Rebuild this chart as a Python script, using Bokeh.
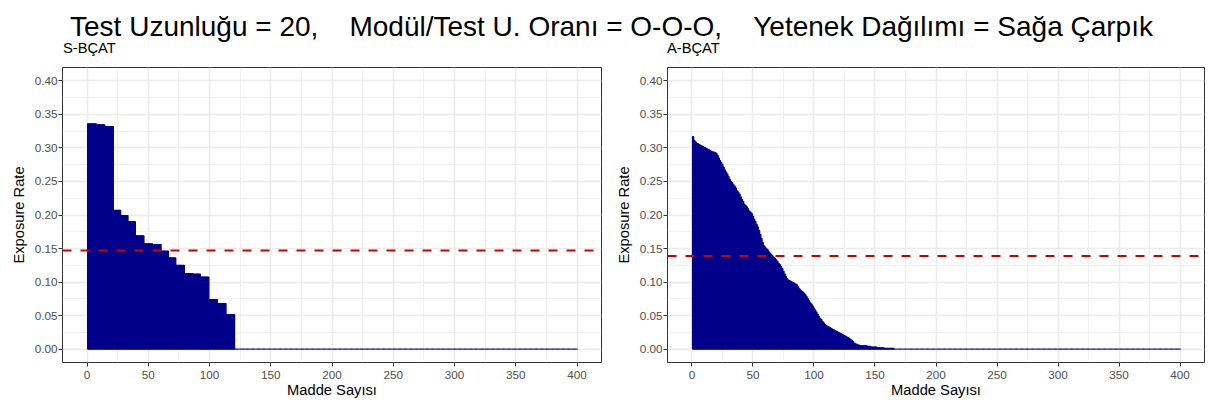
from bokeh.plotting import figure
from bokeh.layouts import column, row
from bokeh.models import Span, FixedTicker, PrintfTickFormatter, Range1d, ColumnDataSource
from bokeh.core.properties import value
from bokeh.embed import file_html
from bokeh.resources import INLINE

# ---------------- data ----------------
main_title = "Test Uzunluğu = 20,\u00a0\u00a0\u00a0\u00a0Modül/Test U. Oranı = O-O-O,\u00a0\u00a0\u00a0\u00a0Yetenek Dağılımı = Sağa Çarpık"
panel_titles = ["S-BÇAT", "A-BÇAT"]
x_label = "Madde Sayısı"
y_label = "Exposure Rate"

item_numbers = list(range(1, 401))

# S-BCAT: exposure rates of items 1..120 (sorted), remaining 280 items never used
s_bcat_rates = [
    0.336, 0.336, 0.336, 0.336, 0.336, 0.336, 0.336, 0.3345, 0.3345, 0.3345,
    0.3345, 0.3345, 0.3345, 0.3345, 0.332, 0.332, 0.332, 0.332, 0.332, 0.332,
    0.332, 0.207, 0.207, 0.207, 0.207, 0.207, 0.207, 0.199, 0.199, 0.199,
    0.199, 0.199, 0.199, 0.190, 0.190, 0.190, 0.190, 0.190, 0.190, 0.169,
    0.169, 0.169, 0.169, 0.169, 0.169, 0.169, 0.157, 0.157, 0.157, 0.157,
    0.157, 0.157, 0.157, 0.156, 0.156, 0.156, 0.156, 0.156, 0.156, 0.156,
    0.146, 0.146, 0.146, 0.146, 0.146, 0.146, 0.136, 0.136, 0.136, 0.136,
    0.136, 0.136, 0.125, 0.125, 0.125, 0.125, 0.125, 0.125, 0.125, 0.1125,
    0.1125, 0.1125, 0.1125, 0.1125, 0.1125, 0.1125, 0.112, 0.112, 0.112, 0.112,
    0.112, 0.112, 0.1075, 0.1075, 0.1075, 0.1075, 0.1075, 0.1075, 0.1075, 0.074,
    0.074, 0.074, 0.074, 0.074, 0.074, 0.074, 0.068, 0.068, 0.068, 0.068,
    0.068, 0.068, 0.068, 0.0516, 0.0516, 0.0516, 0.0516, 0.0516, 0.0516, 0.0516,
] + [0.0] * 280

# A-BCAT: exposure rates of items 1..165 (sorted), remaining 235 items never used
a_bcat_rates = [
    0.317, 0.311, 0.309, 0.307, 0.306, 0.305, 0.304, 0.303, 0.302, 0.301,
    0.300, 0.299, 0.298, 0.297, 0.296, 0.295, 0.294, 0.294, 0.293, 0.292,
    0.289, 0.285, 0.281, 0.278, 0.275, 0.271, 0.267, 0.264, 0.261, 0.257,
    0.253, 0.250, 0.248, 0.245, 0.243, 0.240, 0.236, 0.234, 0.231, 0.227,
    0.223, 0.220, 0.216, 0.214, 0.212, 0.209, 0.206, 0.204, 0.202, 0.198,
    0.194, 0.190, 0.186, 0.182, 0.177, 0.171, 0.165, 0.159, 0.154, 0.152,
    0.150, 0.148, 0.145, 0.143, 0.141, 0.139, 0.137, 0.135, 0.133, 0.131,
    0.128, 0.126, 0.123, 0.120, 0.116, 0.112, 0.108, 0.105, 0.103, 0.102,
    0.101, 0.100, 0.099, 0.098, 0.097, 0.096, 0.093, 0.090, 0.088, 0.086,
    0.085, 0.083, 0.081, 0.078, 0.075, 0.072, 0.069, 0.067, 0.064, 0.061,
    0.058, 0.055, 0.052, 0.049, 0.046, 0.044, 0.041, 0.039, 0.037, 0.035,
    0.034, 0.033, 0.032, 0.031, 0.030, 0.029, 0.028, 0.027, 0.026, 0.025,
    0.024, 0.023, 0.022, 0.021, 0.020, 0.019, 0.018, 0.017, 0.016, 0.014,
    0.013, 0.011, 0.009, 0.008, 0.007, 0.006, 0.006, 0.005, 0.005, 0.005,
    0.005, 0.005, 0.005, 0.004, 0.004, 0.004, 0.003, 0.003, 0.003, 0.003,
    0.003, 0.002, 0.002, 0.002, 0.002, 0.002, 0.002, 0.001, 0.001, 0.001,
    0.001, 0.001, 0.001, 0.001, 0.001,
] + [0.0] * 235

reference_lines = [0.147, 0.139]

x_ticks = [0, 50, 100, 150, 200, 250, 300, 350, 400]
y_ticks = [0.0, 0.05, 0.10, 0.15, 0.20, 0.25, 0.30, 0.35, 0.40]

# ---------------- style / layout ----------------
FONT = "Liberation Sans"
BAR = "#00008B"
RED = "#CD0000"
GRID = "#EBEBEB"
BORDER = "#333333"

HEAD_H = 59
PANEL_H = 344
W1, W2 = 612, 596

x_minor = [(a + b) / 2 for a, b in zip(x_ticks[:-1], x_ticks[1:])] + [x_ticks[-1] + (x_ticks[1] - x_ticks[0]) / 2]
y_minor = [(a + b) / 2 for a, b in zip(y_ticks[:-1], y_ticks[1:])]


def make_panel(rates, ref, width, left, right):
    p = figure(width=width, height=PANEL_H, output_backend="svg", toolbar_location=None,
               x_range=Range1d(-20, 420), y_range=Range1d(-0.02, 0.42),
               min_border_left=left, min_border_right=right, min_border_top=8, min_border_bottom=41)

    src = ColumnDataSource(dict(x=item_numbers, top=rates))
    p.vbar(x="x", top="top", bottom=0, width=1, source=src,
           fill_color=BAR, line_color=BAR, line_width=1.2)
    p.add_layout(Span(location=ref, dimension="width", line_color=RED,
                      line_width=2, line_dash="9 9"))

    p.outline_line_color = BORDER
    p.outline_line_width = 1
    p.background_fill_color = "white"
    p.border_fill_color = "white"

    for ax, ticks, minor in ((p.xaxis[0], x_ticks, x_minor), (p.yaxis[0], y_ticks, y_minor)):
        ax.ticker = FixedTicker(ticks=ticks, minor_ticks=minor)
        ax.axis_line_color = None
        ax.major_tick_line_color = BORDER
        ax.major_tick_out = 4
        ax.major_tick_in = 0
        ax.minor_tick_line_color = None
        ax.major_label_text_font = FONT
        ax.major_label_text_font_size = "11.7px"
        ax.major_label_text_color = "#4D4D4D"
        ax.axis_label_text_font = FONT
        ax.axis_label_text_font_size = "14.7px"
        ax.axis_label_text_font_style = "normal"
        ax.axis_label_text_color = "black"
    p.xaxis.major_label_standoff = 4
    p.xaxis.axis_label_standoff = 0
    p.yaxis.major_label_standoff = 1
    p.yaxis.axis_label_standoff = 5
    p.xaxis.axis_label = x_label
    p.yaxis.axis_label = y_label
    p.yaxis.formatter = PrintfTickFormatter(format="%.2f")

    for g in (p.xgrid[0], p.ygrid[0]):
        g.grid_line_color = GRID
        g.grid_line_width = 1.6
        g.minor_grid_line_color = GRID
        g.minor_grid_line_width = 0.8
    return p


p1 = make_panel(s_bcat_rates, reference_lines[0], W1, 62, 11)
p2 = make_panel(a_bcat_rates, reference_lines[1], W2, 54, 4)

# header: main title + the two panel titles, in a plain pixel-coordinate figure
W = W1 + W2
head = figure(width=W, height=HEAD_H, output_backend="svg", toolbar_location=None,
              x_range=Range1d(0, W), y_range=Range1d(0, HEAD_H),
              min_border=0, min_border_left=0, min_border_right=0, min_border_top=0, min_border_bottom=0)
head.axis.visible = False
head.grid.visible = False
head.outline_line_color = None
head.background_fill_color = "white"
head.text(x=[611], y=[HEAD_H - 25.7], text=[main_title], text_font=value(FONT),
          text_font_size="28px", text_align="center", text_baseline="alphabetic", text_color="black")
head.text(x=[62.5, W1 + 54.5], y=[HEAD_H - 47.5] * 2, text=panel_titles, text_font=value(FONT),
          text_font_size="14.7px", text_align="left", text_baseline="alphabetic", text_color="black")

layout = column(head, row(p1, p2, spacing=0), spacing=0)

with open("out.html", "w") as f:
    f.write(file_html(layout, INLINE))
